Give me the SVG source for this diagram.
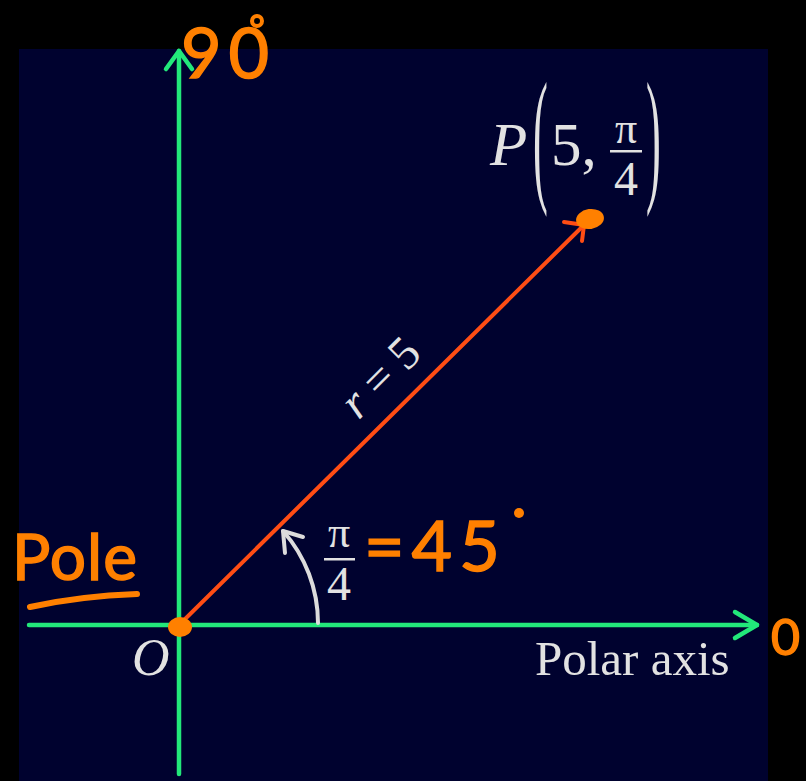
<svg xmlns="http://www.w3.org/2000/svg" width="806" height="781" viewBox="0 0 806 781">
<style>
.axis{stroke:#22e87a;stroke-width:4.5;fill:none;stroke-linecap:round;stroke-linejoin:round}
.ray{stroke:#ff4d14;stroke-width:4;fill:none;stroke-linecap:round}
.arc{stroke:#dcdcdc;stroke-width:4;fill:none;stroke-linecap:round;stroke-linejoin:round}
.math{font-family:"Liberation Serif","Times New Roman",serif;fill:#e2e2e2}
.hand{font-family:Lato,"DejaVu Sans",sans-serif;fill:#ff8000;stroke:#ff8000;stroke-width:1.5}
.dot{fill:#ff8000}
.ring{fill:none;stroke:#ff8000;stroke-width:4}
</style>
<rect width="806" height="781" fill="#000000"/>
<rect x="19" y="49" width="749" height="732" fill="#00022f"/>
<g id="connectors">
<g id="vertical-axis">
<line class="axis" x1="179" y1="774" x2="179" y2="51"/>
<polyline class="axis" points="166,69 179,51 192,69"/>
</g>
<g id="polar-axis-line">
<line class="axis" x1="29" y1="625" x2="757" y2="625"/>
<polyline class="axis" points="735,612 757,625 735,638"/>
</g>
<g id="radius">
<line class="ray" x1="179" y1="625" x2="584" y2="225"/>
<polyline class="ray" points="564,222 584,225 582,241"/>
</g>
<g id="angle-arc">
<path class="arc" d="M 318 623 A 139 139 0 0 0 283 531"/>
<polyline class="arc" points="303,537 283,531 285,553"/>
</g>
</g>
<g id="pole">
<ellipse class="dot" cx="180" cy="627" rx="12" ry="10"/>
<text class="math" x="132" y="675" font-size="52" font-style="italic">O</text>
</g>
<g id="point-P">
<ellipse class="dot" cx="590" cy="219" rx="14" ry="10" transform="rotate(-8 590 219)"/>
<text class="math" x="490" y="165" font-size="61" font-style="italic">P</text>
<text class="math" font-size="148" transform="translate(533,185) scale(0.3,1)">(</text>
<text class="math" x="551" y="165" font-size="61">5,</text>
<text class="math" x="626" y="143" font-size="44" text-anchor="middle">π</text>
<rect x="610" y="150" width="32" height="2.5" fill="#e2e2e2"/>
<text class="math" x="626" y="195" font-size="48" text-anchor="middle">4</text>
<text class="math" font-size="148" transform="translate(646,185) scale(0.3,1)">)</text>
</g>
<g id="r-label">
<text class="math" font-size="47" text-anchor="middle" transform="translate(391,388) rotate(-45)"><tspan font-style="italic">r</tspan> = 5</text>
</g>
<g id="angle-label">
<text class="math" x="339" y="547" font-size="44" text-anchor="middle">π</text>
<rect x="324" y="558" width="31" height="2.5" fill="#e2e2e2"/>
<text class="math" x="339" y="600" font-size="48" text-anchor="middle">4</text>
<text class="hand" x="364" y="571" font-size="70" letter-spacing="7">=45</text>
<circle class="dot" cx="519" cy="513" r="5"/>
</g>
<g id="polar-axis-label">
<text class="math" x="535" y="675" font-size="49">Polar axis</text>
<text class="hand" x="771" y="655" font-size="50">0</text>
</g>
<g id="ninety-label">
<text class="hand" x="181" y="78" font-size="70" letter-spacing="7">90</text>
<circle class="ring" cx="257" cy="21" r="5"/>
</g>
<g id="pole-label">
<text class="hand" x="12" y="580" font-size="64" letter-spacing="1">Pole</text>
<path d="M 30 607 Q 80 596 137 594" fill="none" stroke="#ff8000" stroke-width="6" stroke-linecap="round"/>
</g>
</svg>
